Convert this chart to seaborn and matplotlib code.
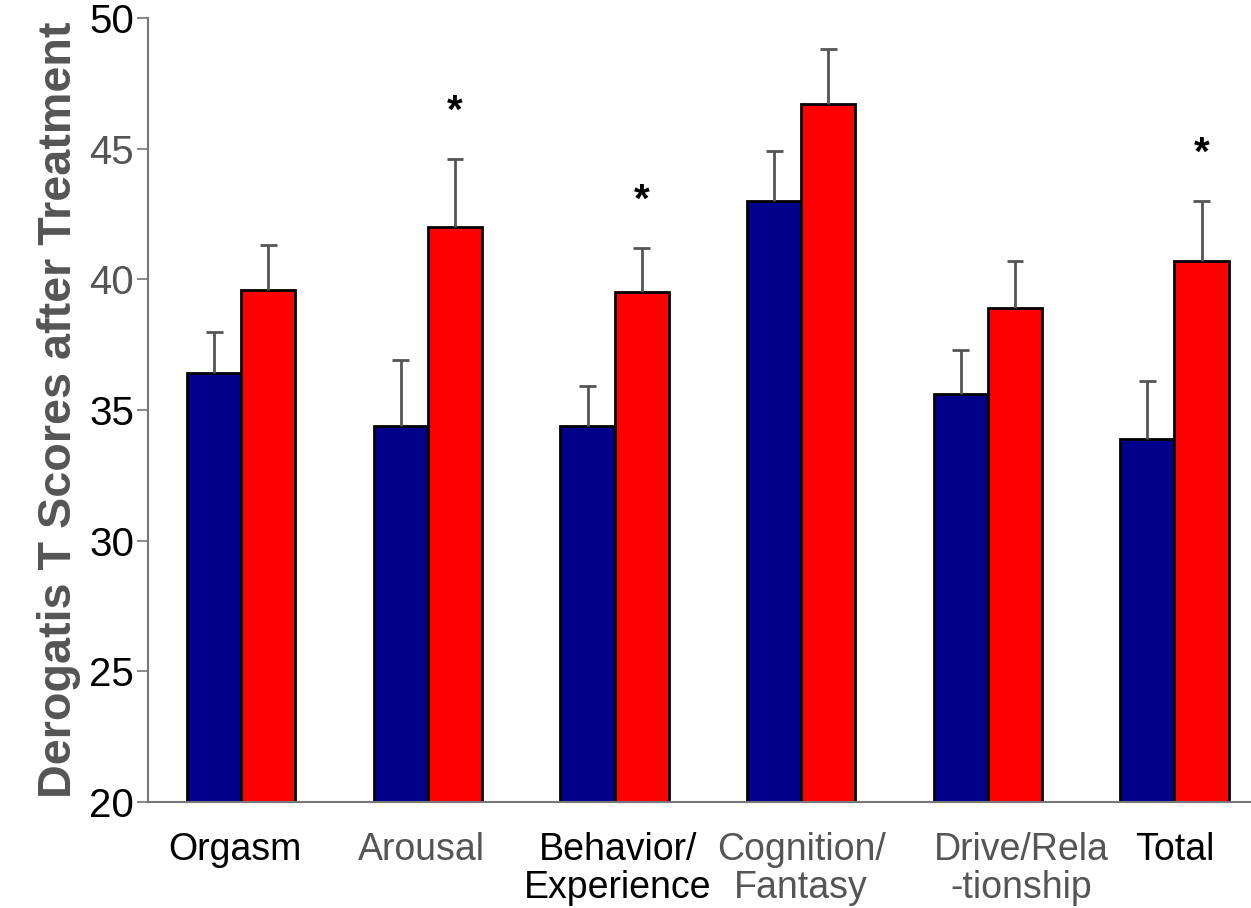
import matplotlib
matplotlib.use("Agg")
import matplotlib.pyplot as plt
import matplotlib.transforms as mtransforms
import numpy as np
import pandas as pd
import seaborn as sns

# Domain scores (means and upper error) for the two groups
domains = ["Orgasm", "Arousal", "Behavior/\nExperience", "Cognition/\nFantasy",
           "Drive/Rela\n-tionship", "Total"]
groups = ["Control", "Treated"]
control_mean = [36.4, 34.4, 34.4, 43.0, 35.6, 33.9]
control_err = [1.6, 2.5, 1.5, 1.9, 1.7, 2.2]
treated_mean = [39.6, 42.0, 39.5, 46.7, 38.9, 40.7]
treated_err = [1.7, 2.6, 1.7, 2.1, 1.8, 2.3]
significant = [False, True, True, False, False, True]
label_colors = ["black", "#555555", "black", "#555555", "#555555", "black"]
ytick_values = [20, 25, 30, 35, 40, 45, 50]
ytick_colors = ["black", "black", "black", "black", "#555555", "#555555", "black"]

sns.set_style("white")
plt.rcParams["font.family"] = ["Liberation Sans", "DejaVu Sans"]

df = pd.DataFrame({
    "domain": domains * 2,
    "group": [groups[0]] * len(domains) + [groups[1]] * len(domains),
    "score": control_mean + treated_mean,
})
errs = [control_err, treated_err]

fig = plt.figure(figsize=(12.51, 9.08), dpi=100)
ax = fig.add_axes([148 / 1251, 1 - 802 / 908, (1251 - 148) / 1251, (802 - 18) / 908])

sns.barplot(data=df, x="domain", y="score", hue="group", order=domains,
            hue_order=groups, palette=["#00008B", "#FF0000"], saturation=1,
            width=0.58, edgecolor="black", linewidth=2, errorbar=None,
            legend=False, ax=ax)

# One-sided (upper) error bars with caps, plus significance marks
cap_half = 0.045
for gi, container in enumerate(ax.containers):
    for i, bar in enumerate(container):
        xc = bar.get_x() + bar.get_width() / 2
        top = bar.get_height()
        e = errs[gi][i]
        ax.vlines(xc, top, top + e, color="#555555", lw=2, zorder=3)
        ax.hlines(top + e, xc - cap_half, xc + cap_half, color="#555555", lw=2, zorder=3)
        if gi == 1 and significant[i]:
            ax.text(xc, top + e + 1.4, "*", ha="center", va="baseline",
                    fontsize=29, fontweight="bold", color="black")

ax.set_ylim(20, 50)
ax.set_xlim(-0.5, 5.41)
ax.set_yticks(ytick_values)
ax.set_yticklabels([str(v) for v in ytick_values], fontsize=29)
for lbl, c in zip(ax.get_yticklabels(), ytick_colors):
    lbl.set_color(c)
ax.tick_params(axis="y", direction="out", length=8, width=1.2, color="#777777",
               pad=2, left=True)

# Category labels under the groups
ax.set_xticks(range(len(domains)))
ax.set_xticklabels([])
ax.tick_params(axis="x", length=0)
label_shift = [-6, -7, 3, 0, 33, 0]
for i, (name, c) in enumerate(zip(domains, label_colors)):
    tr = ax.get_xaxis_transform() + mtransforms.ScaledTranslation(
        label_shift[i] / 100, -30 / 100, fig.dpi_scale_trans)
    ax.text(i, 0, name, transform=tr, ha="center", va="top", fontsize=27,
            color=c, linespacing=1.07, multialignment="center")

ax.set_xlabel("")
ax.set_ylabel("Derogatis T Scores after Treatment", fontsize=33.7, fontweight="bold",
              color="#555555", labelpad=6)

for side in ["top", "right"]:
    ax.spines[side].set_visible(False)
for side in ["left", "bottom"]:
    ax.spines[side].set_color("#777777")
    ax.spines[side].set_linewidth(1.5)

fig.savefig("out.png", dpi=100)
